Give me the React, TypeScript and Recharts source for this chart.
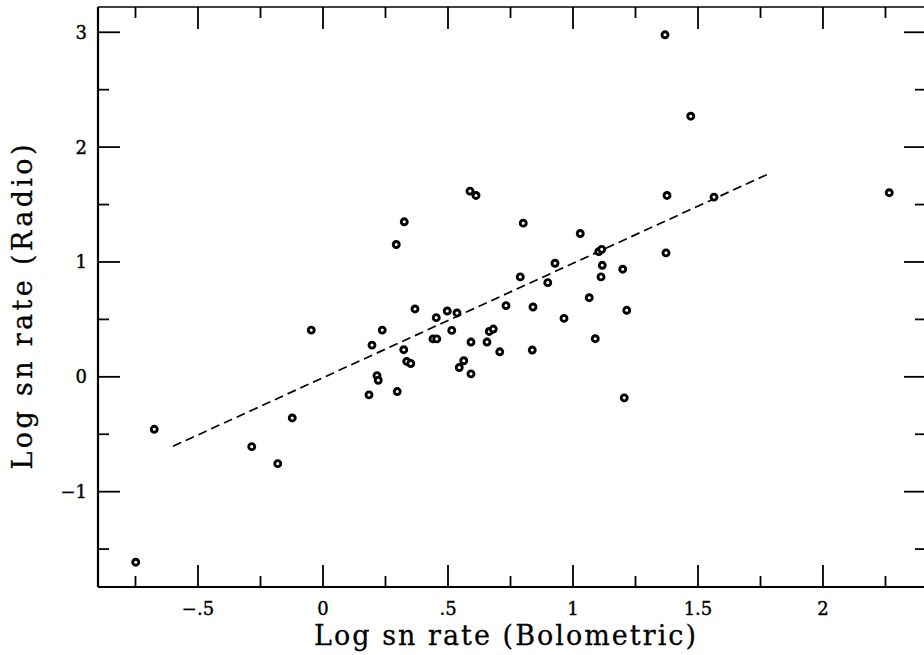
import { ScatterChart, Scatter, XAxis, YAxis, ReferenceLine, Label } from 'recharts'

// Log sn rate (Bolometric) and Log sn rate (Radio), one entry per galaxy
const bolometric = [
  -0.749, -0.675, -0.285, -0.181, -0.123, -0.047, 0.184, 0.196, 0.216, 0.221,
  0.237, 0.293, 0.297, 0.323, 0.325, 0.335, 0.351, 0.368, 0.44, 0.455,
  0.453, 0.497, 0.515, 0.536, 0.545, 0.563, 0.592, 0.592, 0.588, 0.612,
  0.656, 0.665, 0.681, 0.707, 0.732, 0.789, 0.801, 0.837, 0.84, 0.899,
  0.928, 0.964, 1.029, 1.065, 1.089, 1.103, 1.115, 1.112, 1.117, 1.199,
  1.205, 1.215, 1.368, 1.372, 1.376, 1.471, 1.564, 2.265,
]
const radio = [
  -1.614, -0.457, -0.608, -0.756, -0.358, 0.407, -0.157, 0.276, 0.01, -0.03,
  0.407, 1.152, -0.128, 0.236, 1.35, 0.134, 0.116, 0.591, 0.33, 0.33,
  0.515, 0.573, 0.404, 0.556, 0.081, 0.14, 0.303, 0.026, 1.617, 1.579,
  0.303, 0.395, 0.416, 0.218, 0.62, 0.87, 1.338, 0.233, 0.608, 0.82,
  0.989, 0.509, 1.248, 0.689, 0.332, 1.09, 1.11, 0.87, 0.971, 0.937,
  -0.183, 0.579, 2.978, 1.079, 1.579, 2.269, 1.565, 1.603,
]

// dashed fit line end points
const fitX = [-0.6, 1.79]
const fitY = [-0.605, 1.775]

const xTicks = [-0.75, -0.5, -0.25, 0, 0.25, 0.5, 0.75, 1, 1.25, 1.5, 1.75, 2, 2.25]
const xMajor = [-0.5, 0, 0.5, 1, 1.5, 2]
const xTickLabels = ['−.5', '0', '.5', '1', '1.5', '2']

const yTicks = [-1.5, -1, -0.5, 0, 0.5, 1, 1.5, 2, 2.5, 3]
const yMajor = [-1, 0, 1, 2, 3]
const yTickLabels = ['−1', '0', '1', '2', '3']

const points = bolometric.map((x, i) => ({ x, y: radio[i] }))

const FONT = '"DejaVu Serif", serif'
const MAJOR = 22
const MINOR = 11

function BottomTick({ x, y, payload }: any) {
  const i = xMajor.indexOf(payload.value)
  const len = i >= 0 ? MAJOR : MINOR
  return (
    <g>
      <line x1={x} y1={y} x2={x} y2={y - len} stroke="#000" strokeWidth={1.8} />
      {i >= 0 && (
        <text x={x} y={y + 28} textAnchor="middle" fontSize={18} fontFamily={FONT} fill="#000" stroke="#000" strokeWidth={0.4}>
          {xTickLabels[i]}
        </text>
      )}
    </g>
  )
}

function TopTick({ x, y, payload }: any) {
  const len = xMajor.includes(payload.value) ? MAJOR : MINOR
  return <line x1={x} y1={y} x2={x} y2={y + len} stroke="#000" strokeWidth={1.8} />
}

function LeftTick({ x, y, payload }: any) {
  const i = yMajor.indexOf(payload.value)
  const len = i >= 0 ? MAJOR : MINOR
  return (
    <g>
      <line x1={x} y1={y} x2={x + len} y2={y} stroke="#000" strokeWidth={1.8} />
      {i >= 0 && (
        <text x={x - 11} y={y + 6.5} textAnchor="end" fontSize={18} fontFamily={FONT} fill="#000" stroke="#000" strokeWidth={0.4}>
          {yTickLabels[i]}
        </text>
      )}
    </g>
  )
}

function RightTick({ x, y, payload }: any) {
  const len = yMajor.includes(payload.value) ? MAJOR : MINOR
  return <line x1={x} y1={y} x2={x - len} y2={y} stroke="#000" strokeWidth={1.8} />
}

function Ring({ cx, cy }: any) {
  return <circle cx={cx} cy={cy} r={3} fill="#fff" stroke="#000" strokeWidth={2.9} />
}

export default function App() {
  const xDomain = [-0.9, 2.412]
  const yDomain = [-1.83, 3.22]
  return (
    <div style={{ position: 'absolute', left: 0, top: 0, width: 924, height: 655, overflow: 'hidden', background: '#fff' }}>
      <ScatterChart width={927} height={655} margin={{ top: 6, right: 0, bottom: 0, left: 0 }}>
        <XAxis
          xAxisId="bottom"
          type="number"
          dataKey="x"
          domain={xDomain}
          allowDataOverflow
          ticks={xTicks}
          interval={0}
          height={68}
          tickSize={0}
          tickMargin={0}
          tickLine={false}
          axisLine={{ stroke: '#000', strokeWidth: 2.2 }}
          tick={<BottomTick />}
        >
          <Label
            content={({ viewBox }: any) => (
              <text
                x={viewBox.x + viewBox.width / 2 - 7}
                y={viewBox.y + 58}
                textAnchor="middle"
                fontSize={27}
                textLength={382}
                lengthAdjust="spacing"
                fontFamily={FONT}
                fill="#000"
                stroke="#000"
                strokeWidth={0.3}
              >
                Log sn rate (Bolometric)
              </text>
            )}
          />
        </XAxis>
        <XAxis
          xAxisId="top"
          orientation="top"
          type="number"
          dataKey="x"
          domain={xDomain}
          allowDataOverflow
          ticks={xTicks}
          interval={0}
          height={1}
          tickSize={0}
          tickMargin={0}
          tickLine={false}
          axisLine={{ stroke: '#000', strokeWidth: 1.6 }}
          tick={<TopTick />}
        />
        <YAxis
          yAxisId="left"
          type="number"
          dataKey="y"
          domain={yDomain}
          allowDataOverflow
          ticks={yTicks}
          interval={0}
          width={98}
          tickSize={0}
          tickMargin={0}
          tickLine={false}
          axisLine={{ stroke: '#000', strokeWidth: 2.2 }}
          tick={<LeftTick />}
        >
          <Label
            content={() => (
              <text
                x={32}
                y={307}
                transform="rotate(-90 32 307)"
                textAnchor="middle"
                fontSize={27}
                textLength={325}
                lengthAdjust="spacing"
                fontFamily={FONT}
                fill="#000"
                stroke="#000"
                strokeWidth={0.3}
              >
                Log sn rate (Radio)
              </text>
            )}
          />
        </YAxis>
        <YAxis
          yAxisId="right"
          orientation="right"
          type="number"
          dataKey="y"
          domain={yDomain}
          allowDataOverflow
          ticks={yTicks}
          interval={0}
          width={1}
          tickSize={0}
          tickMargin={0}
          tickLine={false}
          axisLine={{ stroke: '#000', strokeWidth: 1.6 }}
          tick={<RightTick />}
        />
        <ReferenceLine
          xAxisId="bottom"
          yAxisId="left"
          segment={[
            { x: fitX[0], y: fitY[0] },
            { x: fitX[1], y: fitY[1] },
          ]}
          stroke="#000"
          strokeWidth={1.7}
          strokeDasharray="9 5"
        />
        <Scatter
          xAxisId="bottom"
          yAxisId="left"
          data={points}
          shape={<Ring />}
          isAnimationActive={false}
        />
      </ScatterChart>
    </div>
  )
}
